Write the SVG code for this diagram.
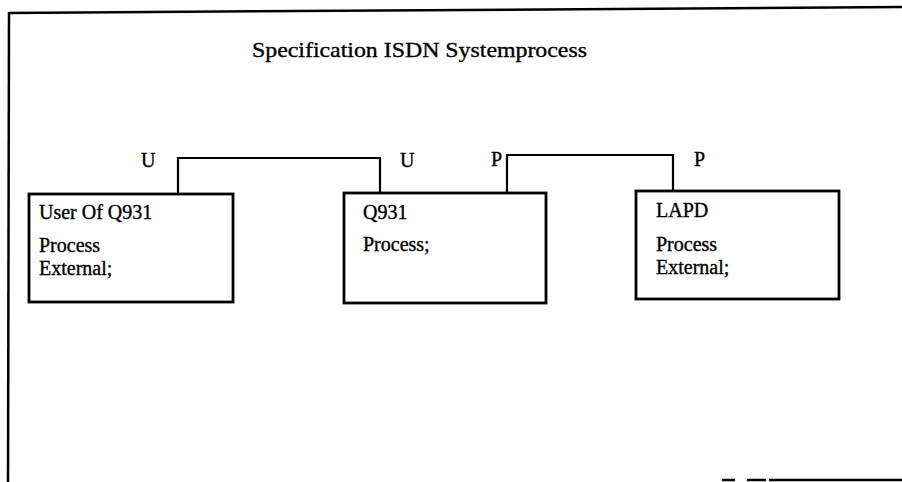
<svg xmlns="http://www.w3.org/2000/svg" width="902" height="482" viewBox="0 0 902 482">
  <style>
    .frame { fill: none; stroke: #000; stroke-width: 2.5; }
    .box { fill: #fff; stroke: #000; stroke-width: 2.8; }
    .wire { fill: none; stroke: #000; stroke-width: 2.2; }
    text { font-family: "Liberation Serif", "Times New Roman", serif; font-size: 20px; fill: #000; stroke: #000; stroke-width: 0.35; }
    .title { font-size: 22px; }
  </style>

  <rect x="0" y="0" width="902" height="482" fill="#fff"/>

  <!-- outer frame: top and left edges, bottom-right rule -->
  <g id="frame">
    <path class="frame" d="M9,13 L902,7"/>
    <path class="frame" d="M9,12 L8,482"/>
    <path class="frame" d="M722,480 H735 M747,480 H766 M769,480 H902"/>
  </g>

  <text class="title" x="252" y="57" textLength="335" lengthAdjust="spacingAndGlyphs">Specification ISDN Systemprocess</text>

  <!-- channels between processes -->
  <g id="connectors">
    <path class="wire" d="M178,194 V158 H380 V193"/>
    <path class="wire" d="M507,193 V155 H673 V191"/>
  </g>

  <g id="gate-labels">
    <text x="141" y="167">U</text>
    <text x="400" y="167">U</text>
    <text x="491" y="166">P</text>
    <text x="694" y="166">P</text>
  </g>

  <g id="user-of-q931">
    <rect class="box" x="29" y="194" width="204" height="108"/>
    <text x="39" y="219">User Of Q931</text>
    <text x="39" y="252">Process</text>
    <text x="39" y="275">External;</text>
  </g>

  <g id="q931">
    <rect class="box" x="344" y="193" width="202" height="110"/>
    <text x="363" y="219">Q931</text>
    <text x="363" y="251">Process;</text>
  </g>

  <g id="lapd">
    <rect class="box" x="636" y="191" width="203" height="108"/>
    <text x="656" y="217">LAPD</text>
    <text x="656" y="251">Process</text>
    <text x="656" y="274">External;</text>
  </g>
</svg>
